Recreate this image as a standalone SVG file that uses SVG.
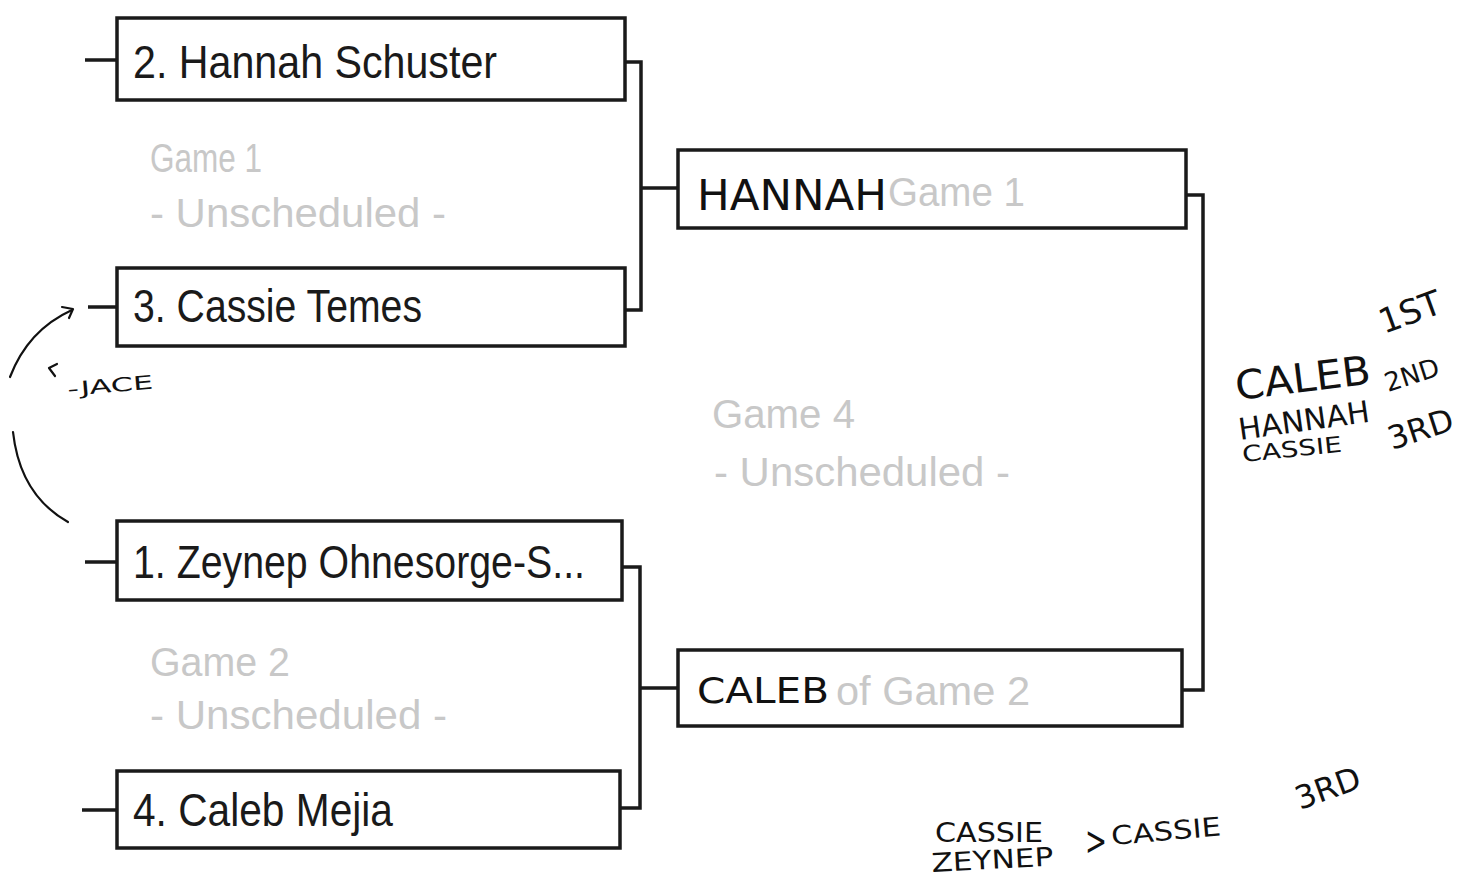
<svg xmlns="http://www.w3.org/2000/svg" width="1470" height="878" viewBox="0 0 1470 878">
<style>
.box{fill:#fff;stroke:#1a1a1a;stroke-width:3.5}
.name{font-family:"Liberation Sans",Arial,sans-serif;font-size:46px;fill:#1a1a1a}
.grey{font-family:"Liberation Sans",Arial,sans-serif;font-size:40px;fill:#c8c8c8}
.conn{fill:none;stroke:#1a1a1a;stroke-width:3.5}
.hand{font-family:"DejaVu Sans",sans-serif;fill:#111}
.ink{fill:none;stroke:#111;stroke-width:2.2;stroke-linecap:round;stroke-linejoin:round}
</style>
<rect width="1470" height="878" fill="#fff"/>
<g id="connectors">
<path class="conn" d="M85 60 H117 M88 307 H117 M85 562 H117 M82 810 H117"/>
<path class="conn" d="M625 62 H641 V310 H625 M641 188 H678"/>
<path class="conn" d="M622 567 H640 V808 H620 M640 688 H678"/>
<path class="conn" d="M1186 195 H1203 V690 H1182"/>
</g>
<g id="seed2">
<rect class="box" x="117" y="18" width="508" height="82"/>
<text class="name" x="133" y="78" textLength="364" lengthAdjust="spacingAndGlyphs">2. Hannah Schuster</text>
</g>
<g id="seed3">
<rect class="box" x="117" y="268" width="508" height="78"/>
<text class="name" x="133" y="322" textLength="289" lengthAdjust="spacingAndGlyphs">3. Cassie Temes</text>
</g>
<g id="seed1">
<rect class="box" x="117" y="521" width="505" height="79"/>
<text class="name" x="133" y="578" textLength="452" lengthAdjust="spacingAndGlyphs">1. Zeynep Ohnesorge-S...</text>
</g>
<g id="seed4">
<rect class="box" x="117" y="771" width="503" height="77"/>
<text class="name" x="133" y="826" textLength="260" lengthAdjust="spacingAndGlyphs">4. Caleb Mejia</text>
</g>
<g id="game1">
<text class="grey" x="150" y="172" textLength="112" lengthAdjust="spacingAndGlyphs">Game 1</text>
<text class="grey" x="150" y="227" textLength="296" lengthAdjust="spacingAndGlyphs">- Unscheduled -</text>
</g>
<g id="game2">
<text class="grey" x="150" y="676" textLength="140" lengthAdjust="spacingAndGlyphs">Game 2</text>
<text class="grey" x="150" y="729" textLength="297" lengthAdjust="spacingAndGlyphs">- Unscheduled -</text>
</g>
<g id="game4">
<text class="grey" x="712" y="428" textLength="143" lengthAdjust="spacingAndGlyphs">Game 4</text>
<text class="grey" x="714" y="486" textLength="296" lengthAdjust="spacingAndGlyphs">- Unscheduled -</text>
</g>
<g id="final-top">
<rect class="box" x="678" y="150" width="508" height="78"/>
<text class="grey" x="888" y="206" textLength="137" lengthAdjust="spacingAndGlyphs">Game 1</text>
<text class="hand" x="697" y="210" font-size="42" textLength="190" lengthAdjust="spacingAndGlyphs">HANNAH</text>
</g>
<g id="final-bottom">
<rect class="box" x="678" y="650" width="504" height="76"/>
<text class="grey" x="836" y="705" textLength="194" lengthAdjust="spacingAndGlyphs">of Game 2</text>
<text class="hand" x="697" y="703" font-size="36" textLength="132" lengthAdjust="spacingAndGlyphs">CALEB</text>
</g>
<g id="annotations">
<path class="ink" d="M10 377 Q28 330 72 310"/>
<path class="ink" d="M62 307 L73 309 L69 318"/>
<path class="ink" d="M13 432 Q20 495 68 522"/>
<path class="ink" d="M57 364 L49 368 L55 376"/>
<text class="hand" x="68" y="396" font-size="19" textLength="86" lengthAdjust="spacingAndGlyphs" transform="rotate(-5 68 396)">-JACE</text>
<text class="hand" x="1237" y="400" font-size="40" textLength="136" lengthAdjust="spacingAndGlyphs" transform="rotate(-7 1237 400)">CALEB</text>
<text class="hand" x="1384" y="334" font-size="34" transform="rotate(-20 1384 334)">1ST</text>
<text class="hand" x="1240" y="440" font-size="30" textLength="132" lengthAdjust="spacingAndGlyphs" transform="rotate(-8 1240 440)">HANNAH</text>
<text class="hand" x="1388" y="392" font-size="26" transform="rotate(-18 1388 392)">2ND</text>
<text class="hand" x="1243" y="462" font-size="22" textLength="100" lengthAdjust="spacingAndGlyphs" transform="rotate(-6 1243 462)">CASSIE</text>
<text class="hand" x="1392" y="450" font-size="32" transform="rotate(-18 1392 450)">3RD</text>
<text class="hand" x="935" y="842" font-size="26" textLength="108" lengthAdjust="spacingAndGlyphs">CASSIE</text>
<text class="hand" x="932" y="872" font-size="26" textLength="122" lengthAdjust="spacingAndGlyphs" transform="rotate(-3 932 872)">ZEYNEP</text>
<text class="hand" x="1085" y="855" font-size="40" textLength="22" lengthAdjust="spacingAndGlyphs">&gt;</text>
<text class="hand" x="1112" y="845" font-size="26" textLength="110" lengthAdjust="spacingAndGlyphs" transform="rotate(-5 1112 845)">CASSIE</text>
<text class="hand" x="1300" y="810" font-size="32" transform="rotate(-20 1300 810)">3RD</text>
</g>
</svg>
